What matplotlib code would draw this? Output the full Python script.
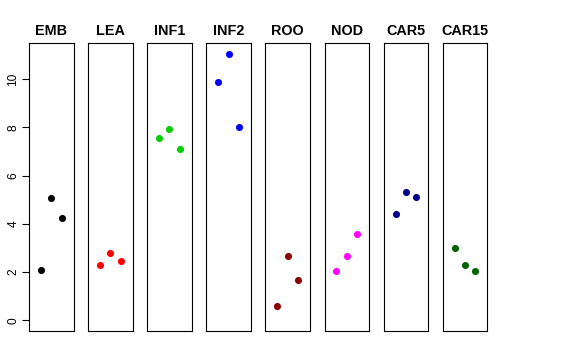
import numpy as np
import matplotlib
matplotlib.use("Agg")
import matplotlib.pyplot as plt

plt.rcParams['font.family'] = ['Liberation Sans', 'DejaVu Sans']

groups = ["EMB", "LEA", "INF1", "INF2", "ROO", "NOD", "CAR5", "CAR15"]
colors = ["black", "red", "#00CD00", "blue", "#8B0000", "magenta", "#00008B", "#006400"]
EMB = [2.10, 5.05, 4.22]
LEA = [2.30, 2.80, 2.44]
INF1 = [7.57, 7.92, 7.12]
INF2 = [9.86, 11.05, 8.01]
ROO = [0.61, 2.66, 1.68]
NOD = [2.04, 2.66, 3.59]
CAR5 = [4.40, 5.30, 5.09]
CAR15 = [2.98, 2.30, 2.06]
values = [EMB, LEA, INF1, INF2, ROO, NOD, CAR5, CAR15]
yticks = [0, 2, 4, 6, 8, 10]

W, H = 576, 360
fig = plt.figure(figsize=(W / 100, H / 100), dpi=100)

ymax = max(max(v) for v in values)
ylim = (0 - 0.04 * ymax, ymax * 1.04)
left0, step, pw = 29, 59.1, 44.5
top, bottom = 43, 331

for i, (name, vals, col) in enumerate(zip(groups, values, colors)):
    x0 = left0 + i * step
    ax = fig.add_axes([x0 / W, 1 - bottom / H, pw / W, (bottom - top) / H])
    ax.scatter([1, 2, 3], vals, s=26, color=col, zorder=3, linewidths=0)
    ax.set_xlim(-0.16, 4.16)
    ax.set_ylim(*ylim)
    ax.set_xticks([])
    for s in ax.spines.values():
        s.set_linewidth(0.8)
    ax.set_title(name, fontsize=10.4, fontweight="bold", pad=6)
    if i == 0:
        ax.set_yticks(yticks)
        ax.set_yticklabels([str(t) for t in yticks], rotation=90, va="center", fontsize=8.6)
        ax.tick_params(axis="y", length=5, width=0.8, pad=2)
    else:
        ax.set_yticks([])

fig.savefig("out.png", dpi=100)
